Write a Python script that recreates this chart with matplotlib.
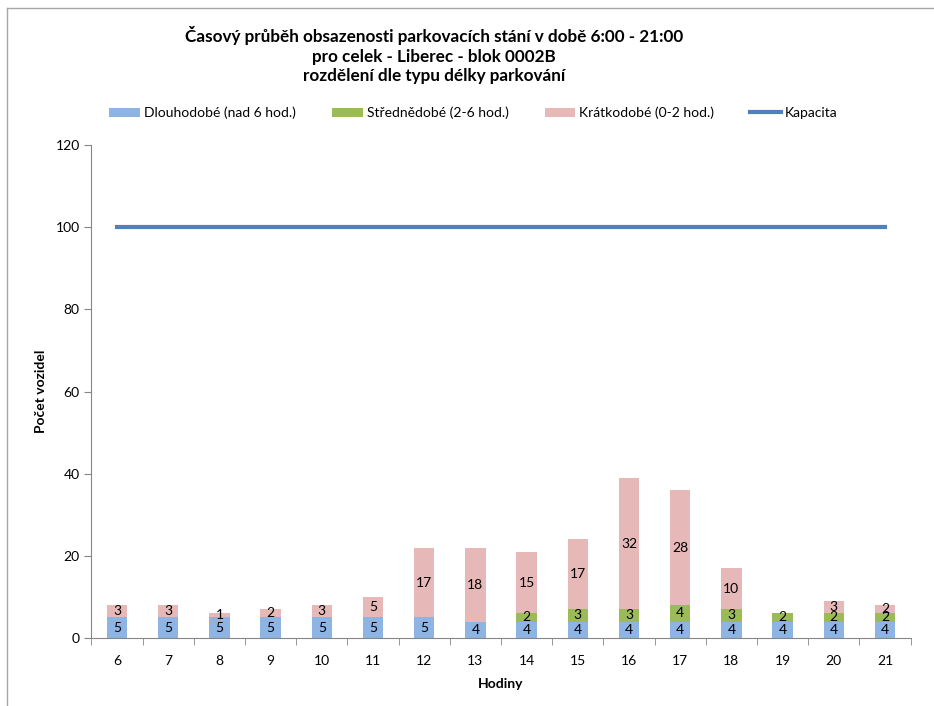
import matplotlib.pyplot as plt
from matplotlib.lines import Line2D
import numpy as np

plt.rcParams['font.family'] = ['Lato', 'DejaVu Sans']

hodiny = [6, 7, 8, 9, 10, 11, 12, 13, 14, 15, 16, 17, 18, 19, 20, 21]
dlouhodobe = [5, 5, 5, 5, 5, 5, 5, 4, 4, 4, 4, 4, 4, 4, 4, 4]
strednedobe = [0, 0, 0, 0, 0, 0, 0, 0, 2, 3, 3, 4, 3, 2, 2, 2]
kratkodobe = [3, 3, 1, 2, 3, 5, 17, 18, 15, 17, 32, 28, 10, 0, 3, 2]
kapacita = [100] * len(hodiny)

fig = plt.figure(figsize=(9.34, 7.06), dpi=100)
ax = fig.add_axes([0.0979, 0.0963, 0.877, 0.6983])

x = np.arange(len(hodiny))
w = 0.4
b1 = ax.bar(x, dlouhodobe, w, color='#8EB4E3', label='Dlouhodobé (nad 6 hod.)')
b2 = ax.bar(x, strednedobe, w, bottom=dlouhodobe, color='#9BBB59',
            label='Střednědobé (2-6 hod.)')
bottom3 = np.array(dlouhodobe) + np.array(strednedobe)
b3 = ax.bar(x, kratkodobe, w, bottom=bottom3, color='#E6B9B8',
            label='Krátkodobé (0-2 hod.)')
cap, = ax.plot(x, kapacita, color='#4F81BD', linewidth=3, label='Kapacita')

# popisky hodnot uvnitr sloupcu
for bars, vals in ((b1, dlouhodobe), (b2, strednedobe), (b3, kratkodobe)):
    ax.bar_label(bars, labels=[str(v) if v else '' for v in vals],
                 label_type='center', fontsize=10, color='black')

ax.set_xlim(-0.5, len(hodiny) - 0.5)
ax.set_ylim(0, 120)
ax.set_yticks(range(0, 121, 20))
ax.set_xticks(x)
ax.set_xticklabels([str(h) for h in hodiny])
ax.set_xticks(np.arange(-0.5, len(hodiny), 1), minor=True)
ax.tick_params(axis='x', which='major', length=0, pad=12, labelsize=10)
ax.tick_params(axis='x', which='minor', length=5, color='#868686')
ax.tick_params(axis='y', length=5, color='#868686', labelsize=10)

for s in ('top', 'right'):
    ax.spines[s].set_visible(False)
for s in ('left', 'bottom'):
    ax.spines[s].set_color('#868686')

ax.set_xlabel('Hodiny', fontsize=10, fontweight='bold', labelpad=8)
ax.set_ylabel('Počet vozidel', fontsize=10, fontweight='bold', labelpad=6)

fig.text(0.465, 0.922, 'Časový průběh obsazenosti parkovacích stání v době 6:00 - 21:00\n'
         'pro celek - Liberec - blok 0002B\nrozdělení dle typu délky parkování',
         ha='center', va='center', fontsize=12.3, fontweight='bold', linespacing=1.3)

fig.legend(handles=[b1, b2, b3, cap], loc='center', bbox_to_anchor=(0.507, 0.84),
           ncol=4, frameon=False, fontsize=10, handlelength=2.2, handleheight=0.7,
           columnspacing=2.6, handletextpad=0.3)

# ramecek grafu
fig.add_artist(Line2D([0.007, 1.0], [0.989, 0.989], color='#A6A6A6', linewidth=1))
fig.add_artist(Line2D([0.007, 0.007], [0.0, 0.989], color='#A6A6A6', linewidth=1))

fig.savefig('out.png', dpi=100)
